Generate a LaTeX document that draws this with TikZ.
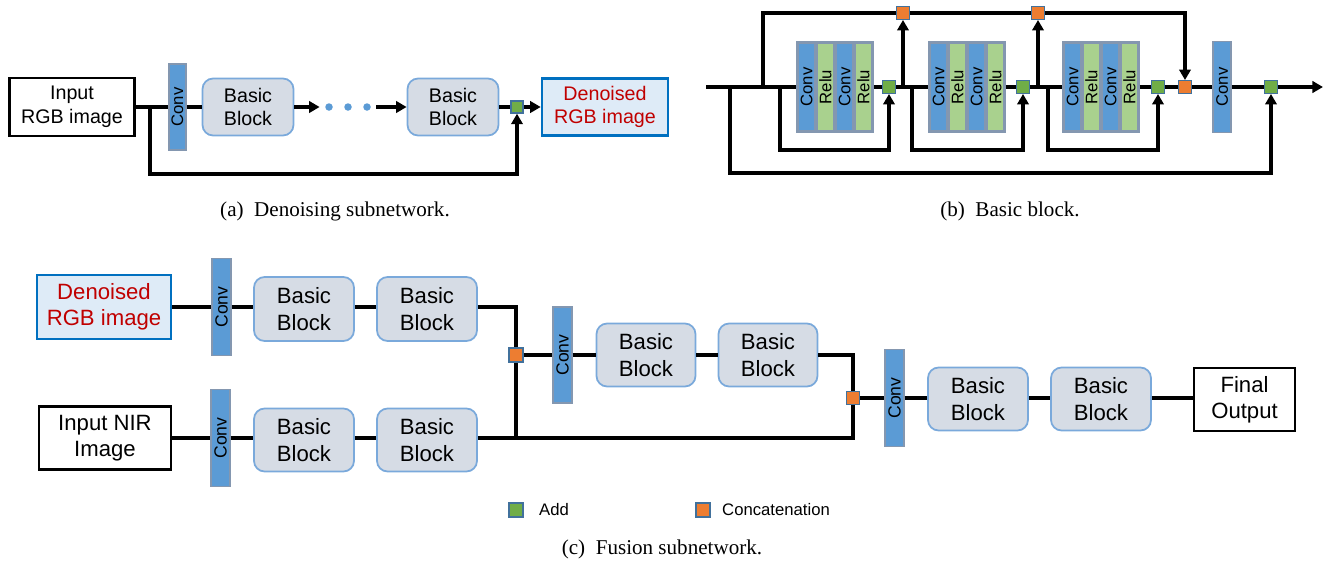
\documentclass[tikz,border=0pt]{standalone}
\usepackage{fontspec}
\setmainfont{Liberation Sans}
\newfontfamily\capfont{Liberation Serif}
\usetikzlibrary{arrows.meta}

\definecolor{convblue}{HTML}{5B9BD5}
\definecolor{barline}{HTML}{8497B0}
\definecolor{relugreen}{HTML}{A9D18E}
\definecolor{addgreen}{HTML}{70AD47}
\definecolor{catorange}{HTML}{ED7D31}
\definecolor{sqline}{HTML}{41719C}
\definecolor{bbfill}{HTML}{D6DCE5}
\definecolor{bbline}{HTML}{7AA9DB}
\definecolor{dfill}{HTML}{DEEBF7}
\definecolor{dblue}{HTML}{0070C0}
\definecolor{dred}{HTML}{C00000}

\tikzset{
  wire/.style={line width=2.1pt},
  arw/.style={wire, -{Triangle[length=6pt,width=6.5pt]}},
  iobox/.style={draw=black, line width=1.5pt, align=center, inner sep=0pt},
  denbox/.style={iobox, draw=dblue, fill=dfill, text=dred},
  basicblk/.style={draw=bbline, fill=bbfill, line width=1pt, rounded corners=6pt, align=center, inner sep=0pt},
  convbar/.style={draw=barline, fill=convblue, line width=0.8pt, rotate=90, inner sep=0pt},
  relubar/.style={convbar, fill=relugreen},
  resgrp/.style={draw=barline, fill=barline, line width=0.8pt, minimum width=1.52cm, minimum height=1.8cm, inner sep=0pt},
  addsq/.style={draw=sqline, fill=addgreen, line width=0.8pt, minimum size=0.25cm, inner sep=0pt},
  catsq/.style={addsq, fill=catorange},
  dotc/.style={circle, fill=convblue, minimum size=0.15cm, inner sep=0pt},
  fonta/.style={font=\fontsize{11.2}{13.5}\selectfont},
  fontb/.style={font=\fontsize{9.5}{11}\selectfont},
  fontc/.style={font=\fontsize{12.6}{15}\selectfont},
  capt/.style={font=\capfont\fontsize{12}{14}\selectfont}
}

\begin{document}
\begin{tikzpicture}[x=0.02cm, y=-0.02cm]
\useasboundingbox (0,0) rectangle (1333,565);

% (a) denoising subnetwork
\node[iobox, fonta, minimum width=2.5cm, minimum height=1.16cm] (ain) at (72,107) {Input\\RGB image};
\node[convbar, fontb, minimum width=1.72cm, minimum height=0.34cm] (aconv) at (177.5,107) {Conv};
\node[basicblk, fonta, minimum width=1.82cm, minimum height=1.14cm] (abb1) at (248,107) {Basic\\Block};
\node[dotc] (ad1) at (329,107) {};
\node[dotc] (ad2) at (348,107) {};
\node[dotc] (ad3) at (367,107) {};
\node[basicblk, fonta, minimum width=1.82cm, minimum height=1.14cm] (abb2) at (453,107) {Basic\\Block};
\node[addsq, minimum size=0.24cm] (aadd) at (517,107) {};
\node[denbox, fonta, minimum width=2.52cm, minimum height=1.14cm] (aout) at (605,107) {Denoised\\RGB image};
\coordinate (asplit) at (150,107);

\draw[wire] (ain) -- (aconv);
\draw[wire] (aconv) -- (abb1);
\draw[arw, shorten >=3pt] (abb1) -- (ad1);
\draw[arw, shorten <=3pt] (ad3) -- (abb2);
\draw[wire] (abb2) -- (aadd);
\draw[arw] (aadd) -- (aout);
\draw[arw] (asplit) -- ++(0,67) -| (aadd);

\node[capt] (capa) at (335,211) {(a)\ \ Denoising subnetwork.};

% (b) basic block
\node[resgrp] (blk1) at (835,87) {};
\node[resgrp] (blk2) at (967,87) {};
\node[resgrp] (blk3) at (1101,87) {};
\node[convbar, fontb, minimum width=1.76cm, minimum height=0.33cm] (c11) at (806.5,87) {Conv};
\node[relubar, fontb, minimum width=1.76cm, minimum height=0.33cm] (r11) at (825.5,87) {Relu};
\node[convbar, fontb, minimum width=1.76cm, minimum height=0.33cm] (c12) at (844.5,87) {Conv};
\node[relubar, fontb, minimum width=1.76cm, minimum height=0.33cm] (r12) at (863.5,87) {Relu};
\node[convbar, fontb, minimum width=1.76cm, minimum height=0.33cm] (c21) at (938.5,87) {Conv};
\node[relubar, fontb, minimum width=1.76cm, minimum height=0.33cm] (r21) at (957.5,87) {Relu};
\node[convbar, fontb, minimum width=1.76cm, minimum height=0.33cm] (c22) at (976.5,87) {Conv};
\node[relubar, fontb, minimum width=1.76cm, minimum height=0.33cm] (r22) at (995.5,87) {Relu};
\node[convbar, fontb, minimum width=1.76cm, minimum height=0.33cm] (c31) at (1072.5,87) {Conv};
\node[relubar, fontb, minimum width=1.76cm, minimum height=0.33cm] (r31) at (1091.5,87) {Relu};
\node[convbar, fontb, minimum width=1.76cm, minimum height=0.33cm] (c32) at (1110.5,87) {Conv};
\node[relubar, fontb, minimum width=1.76cm, minimum height=0.33cm] (r32) at (1129.5,87) {Relu};
\node[addsq] (badd1) at (889,87) {};
\node[addsq] (badd2) at (1023,87) {};
\node[addsq] (badd3) at (1158,87) {};
\node[catsq] (bcat3) at (1185,87) {};
\node[convbar, fontb, minimum width=1.82cm, minimum height=0.36cm] (bconv) at (1222,87) {Conv};
\node[addsq] (badd4) at (1271,87) {};
\node[catsq] (bcat1) at (903,13) {};
\node[catsq] (bcat2) at (1038,13) {};
\coordinate (bin) at (706,87);
\coordinate (bout) at (1323,87);
\coordinate (bs0) at (730,87);
\coordinate (bs1) at (763,87);
\coordinate (br1) at (780,87);
\coordinate (bu1) at (903,87);
\coordinate (br2) at (912,87);
\coordinate (bu2) at (1038,87);
\coordinate (br3) at (1048,87);

\draw[wire] (bin) -- (blk1);
\draw[wire] (blk1) -- (badd1);
\draw[wire] (badd1) -- (blk2);
\draw[wire] (blk2) -- (badd2);
\draw[wire] (badd2) -- (blk3);
\draw[wire] (blk3) -- (badd3);
\draw[wire] (badd3) -- (bcat3);
\draw[wire] (bcat3) -- (bconv);
\draw[wire] (bconv) -- (badd4);
\draw[arw] (badd4) -- (bout);
\draw[arw] (br1) -- ++(0,63) -| (badd1);
\draw[arw] (br2) -- ++(0,63) -| (badd2);
\draw[arw] (br3) -- ++(0,63) -| (badd3);
\draw[arw] (bs0) -- ++(0,86) -| (badd4);
\draw[arw] (bu1) -- (bcat1);
\draw[arw] (bu2) -- (bcat2);
\draw[wire] (bs1) |- (bcat1);
\draw[wire] (bcat1) -- (bcat2);
\draw[arw] (bcat2) -| (bcat3);

\node[capt] (capb) at (1010,211) {(b)\ \ Basic block.};

% (c) fusion subnetwork
\node[denbox, fontc, minimum width=2.68cm, minimum height=1.28cm] (cden) at (104,307) {Denoised\\RGB image};
\node[convbar, font=\fontsize{10}{12}\selectfont, minimum width=1.94cm, minimum height=0.38cm] (cconv1) at (221.5,307) {Conv};
\node[basicblk, fontc, minimum width=2.0cm, minimum height=1.28cm] (cbb1) at (304,309) {Basic\\Block};
\node[basicblk, fontc, minimum width=2.0cm, minimum height=1.28cm] (cbb2) at (427,309) {Basic\\Block};

\node[iobox, fontc, minimum width=2.64cm, minimum height=1.26cm] (cnir) at (105,438) {Input NIR\\Image};
\node[convbar, font=\fontsize{10}{12}\selectfont, minimum width=1.94cm, minimum height=0.38cm] (cconv2) at (220.5,438) {Conv};
\node[basicblk, fontc, minimum width=2.0cm, minimum height=1.26cm] (cbb3) at (304,440) {Basic\\Block};
\node[basicblk, fontc, minimum width=2.0cm, minimum height=1.26cm] (cbb4) at (427,440) {Basic\\Block};

\node[catsq, minimum size=0.28cm] (ccat1) at (516,355) {};
\node[convbar, font=\fontsize{10}{12}\selectfont, minimum width=1.92cm, minimum height=0.38cm] (cconv3) at (562.5,355) {Conv};
\node[basicblk, fontc, minimum width=1.98cm, minimum height=1.26cm] (cbb5) at (646,355) {Basic\\Block};
\node[basicblk, fontc, minimum width=1.98cm, minimum height=1.26cm] (cbb6) at (768,355) {Basic\\Block};

\node[catsq, minimum size=0.27cm] (ccat2) at (853,398) {};
\node[convbar, font=\fontsize{10}{12}\selectfont, minimum width=1.94cm, minimum height=0.38cm] (cconv4) at (894.5,398) {Conv};
\node[basicblk, fontc, minimum width=2.0cm, minimum height=1.26cm] (cbb7) at (978,399) {Basic\\Block};
\node[basicblk, fontc, minimum width=2.0cm, minimum height=1.26cm] (cbb8) at (1101,399) {Basic\\Block};
\node[iobox, fontc, minimum width=2.02cm, minimum height=1.26cm] (cout) at (1244.5,399.5) {Final\\Output};
\coordinate (cjoin) at (516,438);

\draw[wire] (cden) -- (cconv1);
\draw[wire] (cconv1) -- (cbb1.west |- cconv1);
\draw[wire] (cbb1.east |- cconv1) -- (cbb2.west |- cconv1);
\draw[wire] (cbb2.east |- cconv1) -| (ccat1);
\draw[wire] (cnir) -- (cconv2);
\draw[wire] (cconv2) -- (cbb3.west |- cconv2);
\draw[wire] (cbb3.east |- cconv2) -- (cbb4.west |- cconv2);
\draw[wire] (cbb4.east |- cconv2) -- (cjoin) -| (ccat2);
\draw[wire] (cjoin) -- (ccat1);
\draw[wire] (ccat1) -- (cconv3);
\draw[wire] (cconv3) -- (cbb5);
\draw[wire] (cbb5) -- (cbb6);
\draw[wire] (cbb6) -| (ccat2);
\draw[wire] (ccat2) -- (cconv4);
\draw[wire] (cconv4) -- (cbb7.west |- cconv4);
\draw[wire] (cbb7.east |- cconv4) -- (cbb8.west |- cconv4);
\draw[wire] (cbb8.east |- cconv4) -- (cout.west |- cconv4);

% legend
\node[addsq, minimum size=0.28cm] (ladd) at (516,510) {};
\node[fontb, anchor=west] (laddtxt) at (533,510) {Add};
\node[catsq, minimum size=0.28cm] (lcat) at (703,510) {};
\node[fontb, anchor=west] (lcattxt) at (716,510) {Concatenation};

\node[capt] (capc) at (662,549) {(c)\ \ Fusion subnetwork.};
\end{tikzpicture}
\end{document}
